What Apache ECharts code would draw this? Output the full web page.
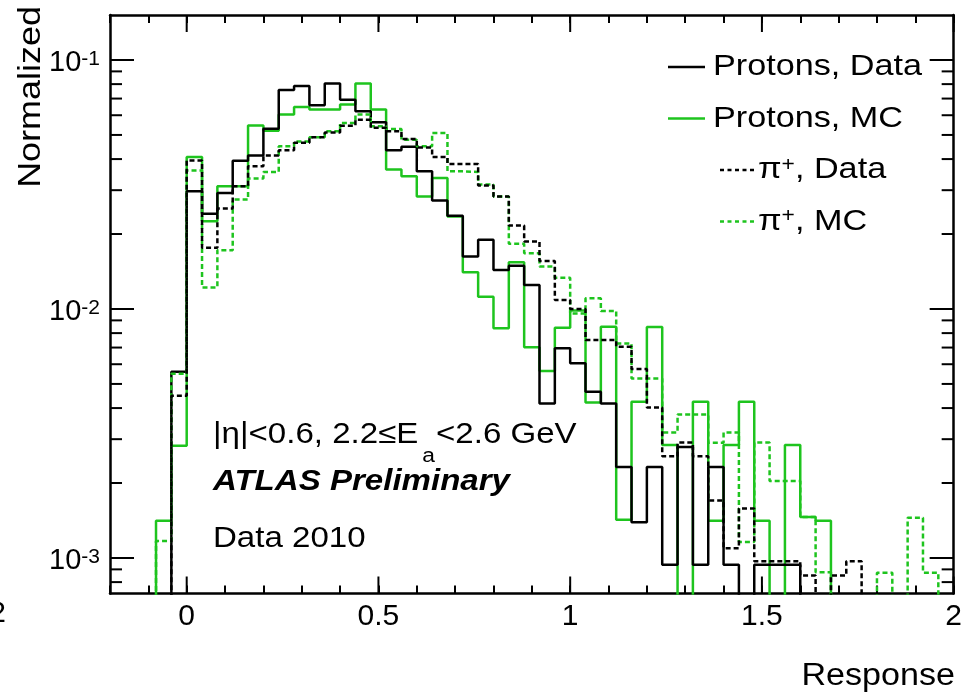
<!DOCTYPE html>
<html><head><meta charset="utf-8">
<script src="https://cdn.jsdelivr.net/npm/echarts@6/dist/echarts.min.js"></script>
<style>html,body{margin:0;padding:0;background:#fff}#c{width:965px;height:693px}</style>
</head><body><div id="c"></div>
<script>
// ---- data ----
const binStart = -0.2;
const binWidth = 0.04;
const protonsData = [0,0,0,0,0.0056,0.0297,0.0241,0.0292,0.0394,0.0413,0.053,0.0758,0.0787,0.0658,0.0804,0.0693,0.0623,0.0562,0.0434,0.0448,0.0357,0.0273,0.0237,0.01624,0.01895,0.01435,0.01493,0.01249,0.00417,0.00695,0.00605,0.00465,0.00417,0.00232,0.00139,0.00232,0.000939,0.00279,0.000939,0.00232,0.000939,0,0.000939,0.000939,0.000939,0,0,0,0,0,0,0,0,0,0];
const protonsMC = [0,0,0,0.00141,0.00282,0.0408,0.0225,0.0311,0.0311,0.0546,0.052,0.0604,0.0648,0.0632,0.0632,0.0662,0.0804,0.0632,0.0363,0.0341,0.0283,0.0336,0.0235,0.01405,0.0112,0.00836,0.01542,0.00702,0.00563,0.0084,0.00985,0.00421,0.00849,0.001425,0.00424,0.00846,0.00284,0,0.00424,0.00141,0.00284,0.00424,0.00141,0,0.00284,0.00146,0.00141,0,0,0,0,0,0,0,0];
const pionsData = [0,0,0,0,0.00448,0.0395,0.0176,0.0253,0.0311,0.0374,0.0413,0.0434,0.0465,0.049,0.0512,0.0545,0.0576,0.0534,0.0517,0.0482,0.0445,0.0408,0.0382,0.0382,0.0313,0.0283,0.02163,0.01866,0.0156,0.01087,0.01,0.0075,0.0075,0.00705,0.00574,0.00402,0.00256,0.00291,0.00256,0.0017,0.001095,0.00158,0.000971,0.000971,0.000971,0.000851,0,0.000851,0.000971,0,0,0,0,0,0];
const pionsMC = [0,0,0,0.00117,0.0055,0.036,0.0122,0.0172,0.0275,0.0334,0.0355,0.045,0.0471,0.049,0.0517,0.0559,0.0604,0.0542,0.0528,0.0478,0.045,0.0509,0.0357,0.0355,0.0316,0.0283,0.01827,0.01675,0.0148,0.01336,0.0096,0.01104,0.00982,0.00727,0.00526,0.00526,0.00319,0.00377,0.00377,0.0029,0.00319,0.001158,0.00291,0.002037,0.002037,0.00146,0.000877,0,0,0,0.000873,0,0.001452,0.000873,0];
const seriesNames = ['Protons, Data', 'Protons, MC', '\u03c0+, Data', '\u03c0+, MC'];
const xTickLabels = [0, 0.5, 1, 1.5, 2];
const yMajorTicks = [0.001, 0.01, 0.1];
const yMinorTicks = [0.0008,0.0009,0.002,0.003,0.004,0.005,0.006,0.007,0.008,0.009,0.02,0.03,0.04,0.05,0.06,0.07,0.08,0.09];
const xMin = -0.2, xMax = 2, yMin = 7.2e-4, yMax = 0.1516;

// ---- styling / build ----
const GREEN = '#1ec41e';
const FONT = '"Liberation Sans", Arial, sans-serif';
const LW = 2.5;
const EMPTY = 1e-6; // empty bins fall below the axis floor
function r(v){ return Math.round(v*1e6)/1e6; }
function hist(vals){
  const pts = vals.map((v,k)=>[r(binStart+k*binWidth), v>0?v:EMPTY]);
  const last = vals[vals.length-1];
  pts.push([r(binStart+vals.length*binWidth), last>0?last:EMPTY]);
  return pts;
}
const ctx = document.createElement('canvas').getContext('2d');
function tw(t, f){ ctx.font = f; return ctx.measureText(t).width; }

const chart = echarts.init(document.getElementById('c'), null, {renderer:'canvas'});

const yTickData = yMajorTicks.map(v=>[0, v, 24]).concat(yMinorTicks.map(v=>[0, v, 12]));
const xMajorData = xTickLabels.map(v=>[v, 0.01, 17]);

const SX = 1.14;
const f29 = '29px ' + FONT, f20 = '20px ' + FONT;
const ax = 213;
const p1 = '|\u03b7|<0.6, 2.2\u2264E', p2 = '<2.6 GeV';
const w1 = tw(p1, f29) * SX, wa = tw('a', f20) * SX;
const subX = ax + w1 + 4;
const p2X = subX + wa + 1;

const graphics = [];
function txt(t, x, y, font, opts){
  graphics.push(Object.assign({type:'text', x:x, y:y, scaleX: SX, silent:true,
    style:{text:t, font:font, fill:'#000', align:'left', verticalAlign:'middle'}}, opts||{}));
}
txt(p1, ax, 435, f29);
txt('a', subX, 456.5, f20);
txt(p2, p2X, 435, f29);
txt('ATLAS Preliminary', ax, 482, 'italic bold 29px ' + FONT);
txt('Data 2010', ax, 538.5, f29);
// axis titles
graphics.push({type:'text', x:31, y:6, rotation:Math.PI/2, scaleX:1.16, silent:true,
  style:{text:'Normalized', font:'31px '+FONT, fill:'#000', align:'right', verticalAlign:'middle'}});
graphics.push({type:'text', x:955, y:676, scaleX:1.1, silent:true,
  style:{text:'Response', font:'31px '+FONT, fill:'#000', align:'right', verticalAlign:'middle'}});
graphics.push({type:'text', x:6, y:613.5, silent:true,
  style:{text:'2', font:'30px '+FONT, fill:'#000', align:'right', verticalAlign:'middle'}});

// legend (drawn as graphics)
const legendRows = [
  {y:67, x1:668, x2:705, tx:713, color:'#000', dash:null},
  {y:118.5, x1:668, x2:705, tx:713, color:GREEN, dash:null},
  {y:170, x1:720, x2:757, tx:758, color:'#000', dash:[4,3.5]},
  {y:221.5, x1:720, x2:757, tx:758, color:GREEN, dash:[4,3.5]}
];
legendRows.forEach((row,i)=>{
  graphics.push({type:'line', silent:true, shape:{x1:row.x1, y1:row.y, x2:row.x2, y2:row.y},
    style:{stroke:row.color, lineWidth:LW, lineDash:row.dash||null}});
  const name = seriesNames[i];
  if (name.indexOf('+') > 0) {
    const parts = name.split('+');
    graphics.push({type:'text', x:row.tx, y:row.y, scaleX:SX, silent:true,
      style:{text:'{t|'+parts[0]+'}{s|+}{t|'+parts[1]+'}', fill:'#000', align:'left', verticalAlign:'middle',
        rich:{t:{font:'30px '+FONT, lineHeight:30, verticalAlign:'bottom'}, s:{font:'20px '+FONT, lineHeight:20, verticalAlign:'top'}}}});
  } else {
    txt(name, row.tx, row.y, '30px ' + FONT);
  }
});

function isPow10(v){ const l = Math.log10(v); return Math.abs(l - Math.round(l)) < 1e-6; }

const option = {
  animation:false,
  backgroundColor:'#fff',
  grid:{left:110, right:8, top:15, bottom:99.5, containLabel:false},
  xAxis:[
    {type:'value', position:'bottom', min:xMin, max:xMax, interval:0.1,
     axisLine:{show:true, onZero:false, lineStyle:{color:'#000', width:LW}},
     axisTick:{show:true, inside:true, length:8, lineStyle:{color:'#000', width:2}},
     splitLine:{show:false},
     axisLabel:{margin:8, color:'#000', fontSize:30, fontFamily:FONT,
       formatter:function(v){ return Math.abs(v*2-Math.round(v*2))<1e-6 && v>=0 ? String(Math.round(v*10)/10) : ''; }}},
    {type:'value', position:'top', min:xMin, max:xMax, interval:0.1,
     axisLine:{show:true, onZero:false, lineStyle:{color:'#000', width:LW}},
     axisTick:{show:true, inside:true, length:8, lineStyle:{color:'#000', width:2}},
     splitLine:{show:false}, axisLabel:{show:false}}
  ],
  yAxis:[
    {type:'log', position:'left', min:yMin, max:yMax, logBase:10, splitNumber:3,
     axisLine:{show:true, onZero:false, lineStyle:{color:'#000', width:LW}},
     axisTick:{show:false}, splitLine:{show:false}, minorTick:{show:false},
     axisLabel:{margin:10, color:'#000', padding:[7,0,0,0],
       formatter:function(v){ if(!isPow10(v)) return ''; return '{a|10}{b|'+Math.round(Math.log10(v))+'}'; },
       rich:{a:{fontSize:29, fontFamily:FONT, lineHeight:29, verticalAlign:'bottom', color:'#000'},
             b:{fontSize:21, fontFamily:FONT, lineHeight:21, verticalAlign:'top', padding:[0,0,12,0], color:'#000'}}}},
    {type:'log', position:'right', min:yMin, max:yMax, logBase:10,
     axisLine:{show:true, onZero:false, lineStyle:{color:'#000', width:LW}},
     axisTick:{show:false}, splitLine:{show:false}, axisLabel:{show:false}}
  ],
  series:[
    {name:seriesNames[1], type:'line', step:'end', data:hist(protonsMC), symbol:'none', clip:true, z:3,
     lineStyle:{color:GREEN, width:LW}},
    {name:seriesNames[0], type:'line', step:'end', data:hist(protonsData), symbol:'none', clip:true, z:4,
     lineStyle:{color:'#000', width:LW}},
    {name:seriesNames[3], type:'line', step:'end', data:hist(pionsMC), symbol:'none', clip:true, z:5,
     lineStyle:{color:GREEN, width:LW, type:[5,3]}},
    {name:seriesNames[2], type:'line', step:'end', data:hist(pionsData), symbol:'none', clip:true, z:6,
     lineStyle:{color:'#000', width:LW, type:[5,3]}},
    {type:'custom', silent:true, z:10, data:yTickData, clip:false,
     renderItem:function(params, api){
       const cs = params.coordSys; const y = api.coord([0, api.value(1)])[1]; const len = api.value(2);
       return {type:'group', children:[
         {type:'line', shape:{x1:cs.x, y1:y, x2:cs.x+len, y2:y}, style:{stroke:'#000', lineWidth:2}},
         {type:'line', shape:{x1:cs.x+cs.width-len, y1:y, x2:cs.x+cs.width, y2:y}, style:{stroke:'#000', lineWidth:2}}]};
     }},
    {type:'custom', silent:true, z:10, data:xMajorData, clip:false,
     renderItem:function(params, api){
       const cs = params.coordSys; const x = api.coord([api.value(0), 0.01])[0]; const len = api.value(2);
       return {type:'group', children:[
         {type:'line', shape:{x1:x, y1:cs.y+cs.height, x2:x, y2:cs.y+cs.height-len}, style:{stroke:'#000', lineWidth:2}},
         {type:'line', shape:{x1:x, y1:cs.y, x2:x, y2:cs.y+len}, style:{stroke:'#000', lineWidth:2}}]};
     }}
  ],
  graphic:graphics
};
chart.setOption(option);
</script></body></html>
